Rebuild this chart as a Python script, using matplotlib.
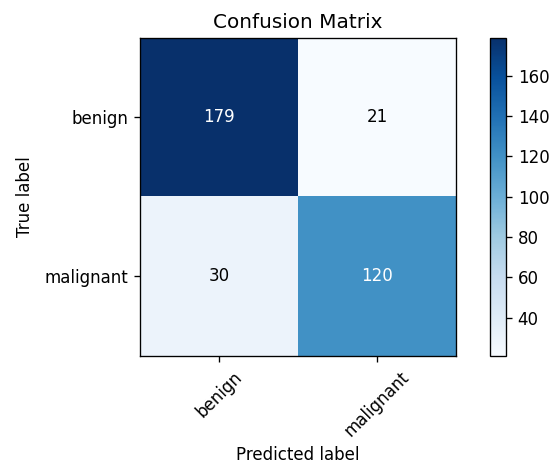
import itertools

import matplotlib
matplotlib.use("Agg")
import matplotlib.pyplot as plt
import numpy as np

classes = ["benign", "malignant"]
cm = np.array([[179, 21],
               [30, 120]])

W, H = 549, 466
DPI = 120  # reference text is ~1.2x the 100-dpi default size
fig = plt.figure(figsize=(W / DPI, H / DPI), dpi=DPI)
ax = fig.add_axes([140 / W, (H - 356) / H, 316 / W, 318.5 / H])
cax = fig.add_axes([490 / W, (H - 356) / H, 16 / W, 318.5 / H])

im = ax.imshow(cm, interpolation="nearest", cmap=plt.cm.Blues, aspect="auto")
ax.set_title("Confusion Matrix")
fig.colorbar(im, cax=cax)
ticks = np.arange(len(classes))
ax.set_xticks(ticks)
ax.set_xticklabels(classes, rotation=45)
ax.set_yticks(ticks)
ax.set_yticklabels(classes)

thresh = cm.max() / 2.0
for i, j in itertools.product(range(cm.shape[0]), range(cm.shape[1])):
    ax.text(j, i, format(cm[i, j], "d"),
            horizontalalignment="center", verticalalignment="center",
            color="white" if cm[i, j] > thresh else "black")

ax.set_ylabel("True label", labelpad=6.5)
ax.set_xlabel("Predicted label")
fig.savefig("out.png", dpi=DPI)
